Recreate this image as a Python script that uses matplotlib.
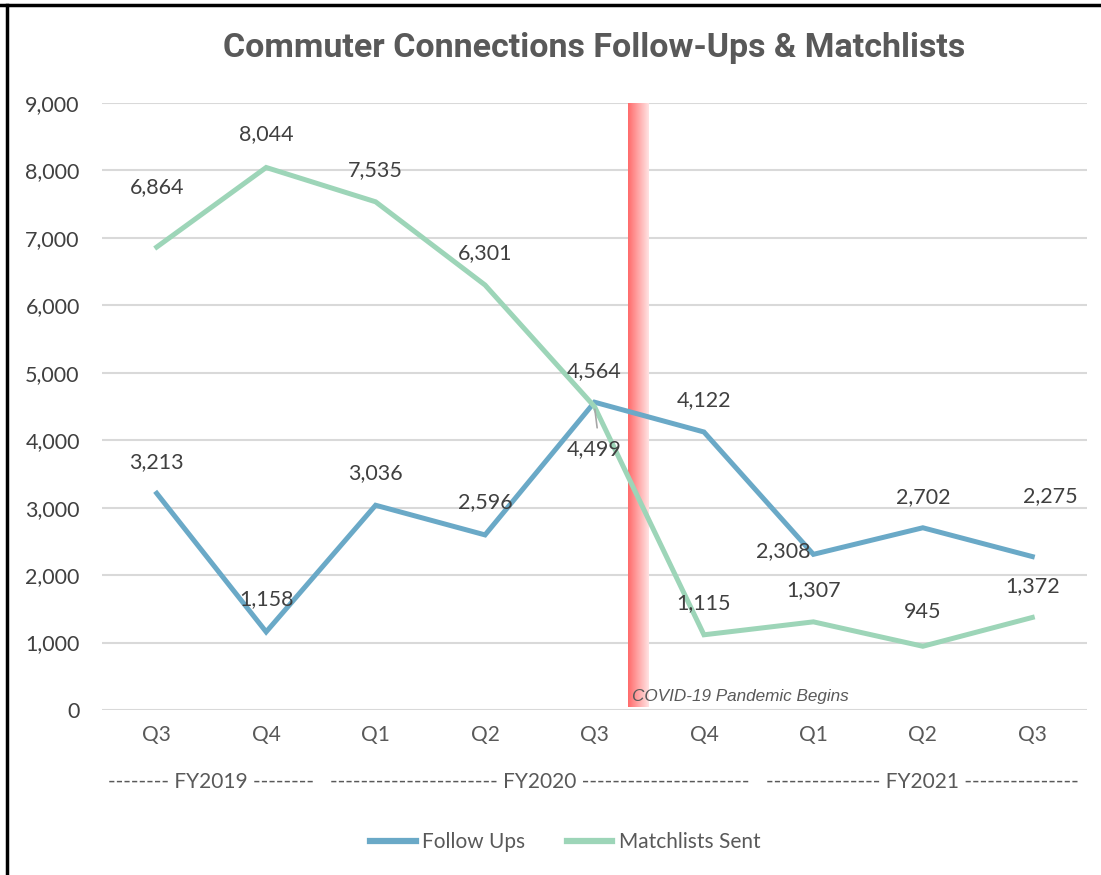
import numpy as np
import matplotlib.pyplot as plt
from matplotlib.colors import LinearSegmentedColormap
from matplotlib.lines import Line2D

quarters = ["Q3", "Q4", "Q1", "Q2", "Q3", "Q4", "Q1", "Q2", "Q3"]
follow_ups = [3213, 1158, 3036, 2596, 4564, 4122, 2308, 2702, 2275]
matchlists = [6864, 8044, 7535, 6301, 4499, 1115, 1307, 945, 1372]
fiscal_years = ["-------- FY2019 --------",
                "---------------------- FY2020 ----------------------",
                "--------------- FY2021 ---------------"]
fy_centers = [0.5, 3.5, 7.0]

blue = "#6AA9C7"
green = "#9DD5B8"
txt = "#404040"

plt.rcParams["font.family"] = ["Lato", "DejaVu Sans"]

fig = plt.figure(figsize=(11.01, 8.75), dpi=100)
ax = fig.add_axes([102 / 1101, (875 - 710) / 875, 985 / 1101, 607 / 875])

x = np.arange(len(quarters))
ax.set_xlim(-0.5, len(quarters) - 0.5)
ax.set_ylim(0, 9000)
ax.set_yticks(range(0, 9001, 1000))
ax.yaxis.set_major_formatter(plt.FuncFormatter(lambda v, p: f"{int(v):,}"))
ax.grid(axis="y", color="#D9D9D9", lw=1.5)
ax.set_axisbelow(True)
for s in ax.spines.values():
    s.set_visible(False)
ax.tick_params(length=0, labelsize=15.5, colors=txt)
ax.tick_params(axis="y", pad=16)
ax.tick_params(axis="x", pad=11)
ax.set_xticks(x)
ax.set_xticklabels(quarters, fontsize=15, color="#595959")

# covid band with gradient
cmap = LinearSegmentedColormap.from_list("band", ["#FF6B6B", "#FFE3E3"])
grad = np.linspace(0, 1, 100).reshape(1, -1)
ax.imshow(grad, cmap=cmap, aspect="auto", extent=[4.31, 4.5, 40, 9000], zorder=1)
ax.text(4.34, 140, "COVID-19 Pandemic Begins", style="italic", fontsize=12.3,
        color="#595959", family=["Liberation Sans", "DejaVu Sans"], zorder=5)

ax.plot(x, follow_ups, color=blue, lw=3.6, zorder=3, solid_joinstyle="miter")
ax.plot(x, matchlists, color=green, lw=3.6, zorder=3, solid_joinstyle="miter")

# data labels (offsets in pixels)
fu_off = [(0, 31), (0, 33), (0, 32), (0, 33), (0, 31), (0, 32), (-30, 3), (0, 31), (18, 60)]
ml_off = [(0, 60), (0, 33), (0, 32), (0, 32), (0, -43), (0, 32), (0, 32), (0, 34), (0, 31)]
for xi, v, o in zip(x, follow_ups, fu_off):
    ax.annotate(f"{v:,}", (xi, v), xytext=o, textcoords="offset pixels",
                ha="center", va="center", fontsize=15.5, color=txt, zorder=6)
for xi, v, o in zip(x, matchlists, ml_off):
    ax.annotate(f"{v:,}", (xi, v), xytext=o, textcoords="offset pixels",
                ha="center", va="center", fontsize=15.5, color=txt, zorder=6)
ax.annotate("", (4, matchlists[4]), xytext=(3, -24), textcoords="offset pixels",
            arrowprops=dict(arrowstyle="-", color="#A6A6A6", lw=1.2), zorder=6)

# fiscal year labels
for c, lab in zip(fy_centers, fiscal_years):
    ax.text(c, -1070, lab, ha="center", va="center", fontsize=15, color="#595959")

ax.set_title("Commuter Connections Follow-Ups & Matchlists", fontsize=24.5,
             fontweight="bold", color="#595959", family=["Roboto", "DejaVu Sans"], pad=33)

handles = [Line2D([], [], color=blue, lw=4.5), Line2D([], [], color=green, lw=4.5)]
fig.legend(handles, ["Follow Ups", "Matchlists Sent"], loc="center",
           bbox_to_anchor=(565 / 1101, 1 - 842 / 875), ncol=2, frameon=False,
           prop={"size": 15}, labelcolor="#595959",
           handlelength=2.2, handletextpad=0.3, columnspacing=2)

# frame border (top and left)
fig.add_artist(Line2D([0, 1], [1 - 5 / 875, 1 - 5 / 875], transform=fig.transFigure, color="black", lw=2.5))
fig.add_artist(Line2D([7 / 1101, 7 / 1101], [0, 1 - 5 / 875], transform=fig.transFigure, color="black", lw=2.5))

fig.savefig("out.png", dpi=100)
